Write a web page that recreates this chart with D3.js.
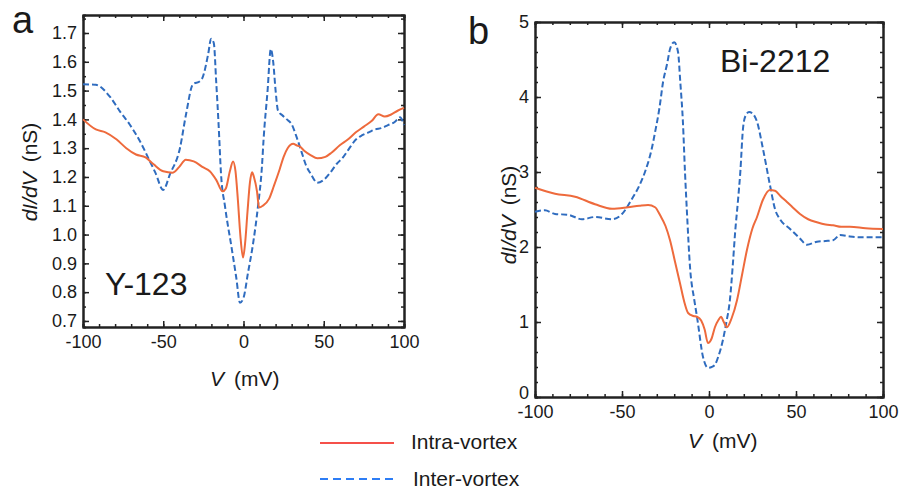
<!DOCTYPE html>
<html>
<head>
<meta charset="utf-8">
<script src="https://cdn.jsdelivr.net/npm/d3@7"></script>
<style>
  body { margin: 0; background: #fff; }
  text { font-family: "Liberation Sans", Arial, sans-serif; fill: #1a1a1a; }
</style>
</head>
<body>
<script>
// panel a : Y-123
var voltA_intra = [-100,-92,-86,-79,-73,-67,-61,-56,-50,-44,-40,-36,-31,-25,-21,-17,-13,-11,-8.5,-6.5,-5,-3.5,-2,-0.3,1,2.5,4,5.3,6.5,8.4,9.7,12,16,19,22.5,25,27.5,31,33,35,38,42,46,51,55,60,65,70,75,80,84,88,92,96,100]
var didvA_intra = [1.40,1.365,1.355,1.33,1.30,1.278,1.268,1.244,1.22,1.215,1.235,1.26,1.254,1.233,1.22,1.19,1.15,1.16,1.22,1.254,1.22,1.12,1.0,0.92,0.97,1.08,1.18,1.216,1.20,1.15,1.094,1.10,1.125,1.17,1.226,1.27,1.30,1.315,1.31,1.306,1.29,1.275,1.265,1.27,1.285,1.31,1.33,1.355,1.375,1.395,1.418,1.41,1.417,1.43,1.44]

var voltA_inter = [-100,-92,-83,-77,-71,-64.5,-58.3,-55,-50,-45.8,-39.6,-35.8,-31.5,-27,-25.9,-22,-20.2,-18.5,-17,-15.5,-14,-11.5,-7.2,-4.5,-2.2,0,2.8,6,9,11.5,12.5,15,17,18.5,20,21.5,24,27,30,33,36,39,42,46,50,54,58,62,66,70,74,78,82,86,90,94,97.5,100]
var didvA_inter = [1.522,1.52,1.477,1.428,1.383,1.324,1.254,1.216,1.155,1.21,1.30,1.418,1.522,1.533,1.54,1.627,1.68,1.665,1.53,1.38,1.21,1.097,0.947,0.85,0.763,0.78,0.867,0.97,1.097,1.237,1.33,1.50,1.644,1.60,1.50,1.43,1.415,1.40,1.383,1.34,1.29,1.24,1.21,1.18,1.19,1.215,1.245,1.268,1.30,1.33,1.345,1.355,1.365,1.37,1.38,1.39,1.407,1.38]

// panel b : Bi-2212
var voltB_intra = [-100,-88.5,-77,-65.5,-55.7,-46.6,-40,-35,-31,-28,-25,-22.4,-19.5,-16.7,-14,-12,-9,-6.9,-4.5,-2.5,-0.6,1.5,3.4,5.5,6.9,8.5,10.3,13,16.1,19,21.8,25,27.6,31,35,37.9,41,44.8,48,52.3,57,62,67,71.3,76,81,90,100]
var didvB_intra = [2.79,2.71,2.67,2.57,2.51,2.53,2.55,2.56,2.53,2.42,2.28,2.09,1.80,1.52,1.25,1.12,1.08,1.07,1.02,0.90,0.72,0.78,0.93,1.03,1.07,1.0,0.93,1.05,1.29,1.63,1.96,2.25,2.40,2.63,2.76,2.75,2.68,2.60,2.53,2.44,2.37,2.33,2.30,2.29,2.27,2.27,2.25,2.24]

var voltB_inter = [-100,-94.3,-88.5,-81,-73,-65.5,-55.7,-50,-44.3,-40,-36.8,-33,-31,-28.5,-26.4,-24,-22.4,-20,-17.8,-16.5,-15,-13.8,-12.6,-10.9,-8.5,-6.9,-3.4,-0.6,1.5,3.4,5.5,8,10,12,13.8,15,16.7,18,19.5,21,23,25,27.6,31,35,38,40.8,46.6,52,56.3,62,67,71.3,75.3,81,86.8,93,100]
var didvB_inter = [2.47,2.49,2.44,2.43,2.37,2.40,2.37,2.44,2.64,2.82,3.0,3.3,3.53,3.85,4.2,4.45,4.64,4.73,4.6,4.2,3.67,3.0,2.43,1.73,1.30,1.07,0.53,0.39,0.40,0.43,0.55,0.76,1.0,1.29,1.8,2.19,2.63,3.0,3.57,3.75,3.8,3.78,3.67,3.31,2.83,2.5,2.37,2.24,2.12,2.03,2.07,2.08,2.09,2.16,2.14,2.13,2.13,2.13]

var xTicks = [-100,-50,0,50,100]
var yTicksA = [0.7,0.8,0.9,1.0,1.1,1.2,1.3,1.4,1.5,1.6,1.7]
var yTicksB = [0,1,2,3,4,5]
var seriesNames = ["Intra-vortex", "Inter-vortex"]

var redLine = "#ee6a3c", blueLine = "#2f6cbf"

var svg = d3.select("body").append("svg").attr("width", 901).attr("height", 491)

function zip(xs, ys) { return xs.map(function(v, i) { return [v, ys[i]] }) }
// plain hyphen for negatives, like the original figure
function fmt(f) { var g = d3.format(f); return function(d) { return g(d).replace("\u2212", "-") } }

function panel(x, y, yTicks, yMinorStep, yFmt, intra, inter) {
  var xr = x.range(), yr = y.range()
  var xMinor = d3.range(-100, 100.1, 10)
  var yMinor = d3.range(Math.ceil(y.domain()[0] / yMinorStep) * yMinorStep, y.domain()[1], yMinorStep)

  // minor ticks, all four sides
  svg.append("g").attr("transform", "translate(0," + yr[0] + ")").call(d3.axisBottom(x).tickValues(xMinor).tickSize(-3).tickFormat(""))
  svg.append("g").attr("transform", "translate(0," + yr[1] + ")").call(d3.axisTop(x).tickValues(xMinor).tickSize(-3).tickFormat(""))
  svg.append("g").attr("transform", "translate(" + xr[0] + ",0)").call(d3.axisLeft(y).tickValues(yMinor).tickSize(-3).tickFormat(""))
  svg.append("g").attr("transform", "translate(" + xr[1] + ",0)").call(d3.axisRight(y).tickValues(yMinor).tickSize(-3).tickFormat(""))

  // major ticks
  svg.append("g").attr("class", "lab").attr("transform", "translate(0," + yr[0] + ")")
    .call(d3.axisBottom(x).tickValues(xTicks).tickSize(-6).tickSizeOuter(0).tickPadding(8).tickFormat(fmt("d")))
  svg.append("g").attr("transform", "translate(0," + yr[1] + ")").call(d3.axisTop(x).tickValues(xTicks).tickSize(-6).tickSizeOuter(0).tickFormat(""))
  svg.append("g").attr("class", "lab").attr("transform", "translate(" + xr[0] + ",0)")
    .call(d3.axisLeft(y).tickValues(yTicks).tickSize(-6).tickSizeOuter(0).tickPadding(6).tickFormat(fmt(yFmt)))
  svg.append("g").attr("transform", "translate(" + xr[1] + ",0)").call(d3.axisRight(y).tickValues(yTicks).tickSize(-6).tickSizeOuter(0).tickFormat(""))

  svg.selectAll(".domain").attr("stroke", "#222").attr("stroke-width", 2)
  svg.selectAll(".tick line").attr("stroke", "#222").attr("stroke-width", 1.5)
  svg.selectAll(".lab text").style("font-size", "18px").style("font-family", "Liberation Sans, Arial, sans-serif").attr("fill", "#1a1a1a")

  var line = d3.line().x(function(d) { return x(d[0]) }).y(function(d) { return y(d[1]) }).curve(d3.curveMonotoneX)
  svg.append("path").datum(inter).attr("d", line).attr("fill", "none").attr("stroke", blueLine)
    .attr("stroke-width", 2).attr("stroke-dasharray", "6,3")
  svg.append("path").datum(intra).attr("d", line).attr("fill", "none").attr("stroke", redLine).attr("stroke-width", 2)
}

var xA = d3.scaleLinear().domain([-100, 100]).range([83, 404])
var yA = d3.scaleLinear().domain([0.679, 1.7625]).range([327, 15])
panel(xA, yA, yTicksA, 0.05, ".1f", zip(voltA_intra, didvA_intra), zip(voltA_inter, didvA_inter))

var xB = d3.scaleLinear().domain([-100, 100]).range([535, 883])
var yB = d3.scaleLinear().domain([0, 5]).range([397, 22])
panel(xB, yB, yTicksB, 0.2, "d", zip(voltB_intra, didvB_intra), zip(voltB_inter, didvB_inter))

// the "0" of panel b sits just above "-100", lift it a little
svg.selectAll(".lab .tick").filter(function(d) { return d === 0 && this.parentNode.getAttribute("transform") === "translate(535,0)" })
  .select("text").attr("dy", "0.1em")

// panel letters and sample names
svg.append("text").attr("x", 12).attr("y", 33).text("a").style("font-size", "38px")
svg.append("text").attr("x", 468).attr("y", 44).text("b").style("font-size", "38px")
svg.append("text").attr("x", 105).attr("y", 295).text("Y-123").style("font-size", "32px")
svg.append("text").attr("x", 720).attr("y", 72).text("Bi-2212").style("font-size", "32px")

// axis titles
function yTitle(x, y) {
  var t = svg.append("text").attr("transform", "translate(" + x + "," + y + ") rotate(-90)")
    .attr("text-anchor", "middle").style("font-size", "21px")
  t.append("tspan").style("font-style", "italic").text("dI/dV")
  t.append("tspan").attr("dx", 10).text("(nS)")
}
yTitle(37, 172)
yTitle(516, 215)

function xTitle(x, y) {
  var t = svg.append("text").attr("x", x).attr("y", y).style("font-size", "21px")
  t.append("tspan").style("font-style", "italic").text("V")
  t.append("tspan").attr("dx", 10).text("(mV)")
}
xTitle(210, 386)
xTitle(688, 448)

// legend
svg.append("line").attr("x1", 320).attr("x2", 394).attr("y1", 443).attr("y2", 443).attr("stroke", "#f5504a").attr("stroke-width", 2)
svg.append("text").attr("x", 411).attr("y", 449).text(seriesNames[0]).style("font-size", "21px")
svg.append("line").attr("x1", 320).attr("x2", 394).attr("y1", 479).attr("y2", 479).attr("stroke", "#2d7df5").attr("stroke-width", 2).attr("stroke-dasharray", "8,5")
svg.append("text").attr("x", 413).attr("y", 486).text(seriesNames[1]).style("font-size", "21px")
</script>
</body>
</html>
